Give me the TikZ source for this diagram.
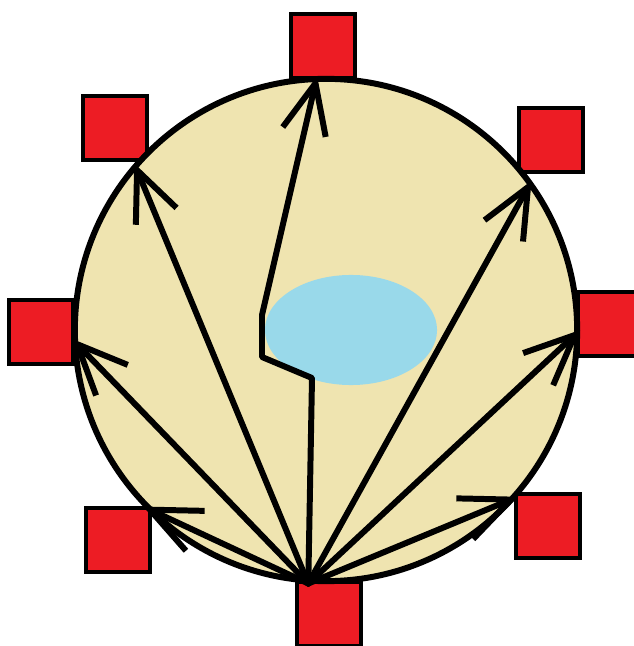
\documentclass[tikz,border=0pt]{standalone}
\usepackage{tikz}
\usetikzlibrary{arrows.meta,shapes.geometric}
\definecolor{tan}{HTML}{EFE4B0}
\definecolor{lake}{HTML}{99D9EA}
\definecolor{boxred}{HTML}{ED1C24}

\begin{document}
\begin{tikzpicture}[x=0.01cm, y=-0.01cm,
        sq/.style={draw, fill=boxred, line width=0.9pt, rectangle,
                   minimum size=0.64cm, inner sep=0pt},
        ray/.style={line width=1.7pt, line cap=round, line join=round,
                    -{Straight Barb[length=5mm, width=4.4mm, line width=1.7pt]}}
    ]
        \clip (0,0) rectangle (634,646);
        \fill[white] (0,0) rectangle (634,646);

        \node[sq] (n) at (323,46) {};
        \node[sq] (nw) at (115,128) {};
        \node[sq] (ne) at (551,140) {};
        \node[sq] (w) at (41,332) {};
        \node[sq] (e) at (610,324) {};
        \node[sq] (sw) at (118,540) {};
        \node[sq] (se) at (548,526) {};
        \node[sq] (s) at (329,614) {};

        \node[draw, circle, fill=tan, line width=1.7pt, minimum size=5.02cm,
              inner sep=0pt] (dome) at (326,330) {};
        \node[ellipse, fill=lake, minimum width=1.72cm, minimum height=1.1cm,
              inner sep=0pt] (lake) at (351,330) {};

        \coordinate (hub) at (dome.266.8);

        % rays to the edge
        \draw[ray] (hub) -- (dome.139.2);
        \draw[ray] (hub) -- (dome.36.5);
        \draw[ray] (hub) -- (dome.182.5);
        \draw[ray] (hub) -- (dome.-0.7);
        \draw[ray] (hub) -- (dome.224.2);
        \draw[ray] (hub) -- (dome.-41);
        % the one round the lake
        \draw[ray] (hub) -- (312,378) -- (262,357) -- (262,315) -- (dome.92.5);
    \end{tikzpicture}
\end{document}
